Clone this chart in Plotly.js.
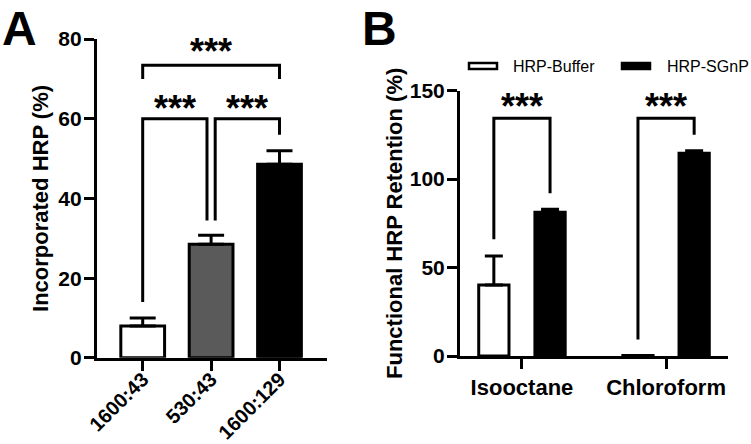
<!DOCTYPE html>
<html>
<head>
<meta charset="utf-8">
<script src="https://cdn.plot.ly/plotly-3.0.1.min.js"></script>
<style>html,body{margin:0;padding:0;background:#fff;}#chart{width:751px;height:444px;}</style>
</head>
<body>
<div id="chart"></div>
<script>
// ---- Panel A data ----
const catsA = ['1600:43', '530:43', '1600:129'];
const valsA = [8.0, 28.5, 48.6];
const errA = [2.0, 2.3, 3.4];
const colorsA = ['#ffffff', '#5a5a5a', '#000000'];

// ---- Panel B data ----
const catsB = ['Isooctane', 'Chloroform'];
const seriesB = ['HRP-Buffer', 'HRP-SGnP'];
const seriesColorsB = ['#ffffff', '#000000'];
const bufferVals = [40.2, 0.3];
const bufferErr = [16.4, 0];
const sgnpVals = [81.3, 114.6];
const sgnpErr = [1.7, 1.4];

// significance labels
const sigLabelsA = ['***', '***', '***'];
const sigLabelsB = ['***', '***'];

const FONT = 'Liberation Sans, Arial, Helvetica, sans-serif';
const black = '#000000';

// bracket geometry (layout, not data)
const bracketsA = [
  {x0: 0, x1: 2, y: 73.4, y0: 70, y1: 70, ty: 76.9, tx: 1},
  {x0: 0, x1: 0.94, y: 60, y0: 14, y1: 34.5, ty: 62.7, tx: 0.47},
  {x0: 1.06, x1: 2, y: 60, y0: 34.5, y1: 56, ty: 62.7, tx: 1.53}
];
const bracketsB = [
  {x0: -0.195, x1: 0.195, y: 134.4, y0: 66, y1: 92, ty: 141.2, tx: 0},
  {x0: 0.805, x1: 1.195, y: 134.4, y0: 9.4, y1: 125, ty: 141.2, tx: 1}
];
// custom legend placement (paper px)
const legendItems = [
  {sx0: 469, sx1: 497, tx: 511},
  {sx0: 622, sx1: 650, tx: 665}
];
const legendY = 66;

const W = 751, H = 444;
const px = v => v / W;
const py = v => (H - v) / H;

const traces = [
  {
    type: 'bar', x: catsA, y: valsA, xaxis: 'x', yaxis: 'y', width: 0.64,
    marker: {color: colorsA, line: {color: black, width: 3}},
    error_y: {type: 'data', array: errA, arrayminus: errA.map(() => 0), symmetric: false,
              color: black, thickness: 3, width: 13},
    showlegend: false, hoverinfo: 'skip'
  },
  {
    type: 'bar', name: seriesB[0], x: [0, 1], y: bufferVals, xaxis: 'x2', yaxis: 'y2',
    offset: -0.3, width: 0.21,
    marker: {color: seriesColorsB[0], line: {color: black, width: 3}},
    error_y: {type: 'data', array: bufferErr, arrayminus: bufferErr.map(() => 0), symmetric: false,
              color: black, thickness: 3, width: 9},
    showlegend: false, hoverinfo: 'skip'
  },
  {
    type: 'bar', name: seriesB[1], x: [0, 1], y: sgnpVals, xaxis: 'x2', yaxis: 'y2',
    offset: 0.09, width: 0.21,
    marker: {color: seriesColorsB[1], line: {color: black, width: 3}},
    error_y: {type: 'data', array: sgnpErr, arrayminus: sgnpErr.map(() => 0), symmetric: false,
              color: black, thickness: 3, width: 9},
    showlegend: false, hoverinfo: 'skip'
  }
];

function bracketShapes(list, xref, yref) {
  return list.map(b => ({
    type: 'path', xref: xref, yref: yref,
    path: `M ${b.x0},${b.y0} L ${b.x0},${b.y} L ${b.x1},${b.y} L ${b.x1},${b.y1}`,
    line: {color: black, width: 3}, layer: 'above'
  }));
}
function starAnn(list, labels, xref, yref) {
  return list.map((b, i) => ({
    xref: xref, yref: yref, x: b.tx, y: b.ty, text: labels[i], showarrow: false,
    xanchor: 'center', yanchor: 'middle',
    font: {family: FONT, size: 36, color: black, weight: 'bold'}
  }));
}

const legendShapes = legendItems.map((it, i) => ({
  type: 'rect', xref: 'paper', yref: 'paper',
  x0: px(it.sx0), x1: px(it.sx1), y0: py(legendY - 3), y1: py(legendY + 3),
  fillcolor: seriesColorsB[i], line: {color: black, width: 2.5}
}));
const legendTexts = legendItems.map((it, i) => ({
  xref: 'paper', yref: 'paper', x: px(it.tx), y: py(legendY), xanchor: 'left', yanchor: 'middle',
  text: seriesB[i], showarrow: false, font: {family: FONT, size: 16, color: black}
}));

const axisCommon = {
  showline: true, linecolor: black, linewidth: 3, mirror: false,
  ticks: 'outside', ticklen: 10, tickwidth: 3, tickcolor: black,
  showgrid: false, zeroline: false, fixedrange: true, automargin: false,
  tickfont: {family: FONT, size: 21, color: black, weight: 'bold'}
};

const layout = {
  width: W, height: H,
  margin: {l: 0, r: 0, t: 0, b: 0, pad: 0},
  paper_bgcolor: '#ffffff', plot_bgcolor: '#ffffff',
  barmode: 'overlay',
  showlegend: false,
  xaxis: Object.assign({}, axisCommon, {
    domain: [0.129, 0.435], anchor: 'y', type: 'category', range: [-0.67, 2.69],
    tickangle: -45, ticklabelstandoff: -11,
    tickfont: {family: FONT, size: 20, color: black, weight: 'bold'}
  }),
  yaxis: Object.assign({}, axisCommon, {
    domain: [0.194, 0.912], anchor: 'x', range: [0, 80], tickvals: [0, 20, 40, 60, 80],
    ticklabelstandoff: -2,
    title: {text: 'Incorporated HRP (%)', standoff: 4,
            font: {family: FONT, size: 22, color: black, weight: 'bold'}}
  }),
  xaxis2: Object.assign({}, axisCommon, {
    domain: [0.6125, 0.9694], anchor: 'y2', range: [-0.43, 1.43],
    tickvals: [0, 1], ticktext: catsB, tickangle: 0, ticklabelstandoff: 0,
    tickfont: {family: FONT, size: 22, color: black, weight: 'bold'}
  }),
  yaxis2: Object.assign({}, axisCommon, {
    domain: [0.198, 0.796], anchor: 'x2', range: [0, 150], tickvals: [0, 50, 100, 150],
    ticklabelstandoff: -2,
    title: {text: 'Functional HRP Retention (%)', standoff: 2,
            font: {family: FONT, size: 22, color: black, weight: 'bold'}}
  }),
  shapes: bracketShapes(bracketsA, 'x', 'y')
    .concat(bracketShapes(bracketsB, 'x2', 'y2'))
    .concat(legendShapes),
  annotations: starAnn(bracketsA, sigLabelsA, 'x', 'y')
    .concat(starAnn(bracketsB, sigLabelsB, 'x2', 'y2'))
    .concat(legendTexts)
    .concat([
      {xref: 'paper', yref: 'paper', x: 0, y: 1.0, xanchor: 'left', yanchor: 'top', text: 'A',
       showarrow: false, font: {family: FONT, size: 48, color: black, weight: 'bold'}},
      {xref: 'paper', yref: 'paper', x: 0.479, y: 1.0, xanchor: 'left', yanchor: 'top', text: 'B',
       showarrow: false, font: {family: FONT, size: 48, color: black, weight: 'bold'}}
    ])
};

Plotly.newPlot('chart', traces, layout, {displayModeBar: false, staticPlot: true});
</script>
</body>
</html>
